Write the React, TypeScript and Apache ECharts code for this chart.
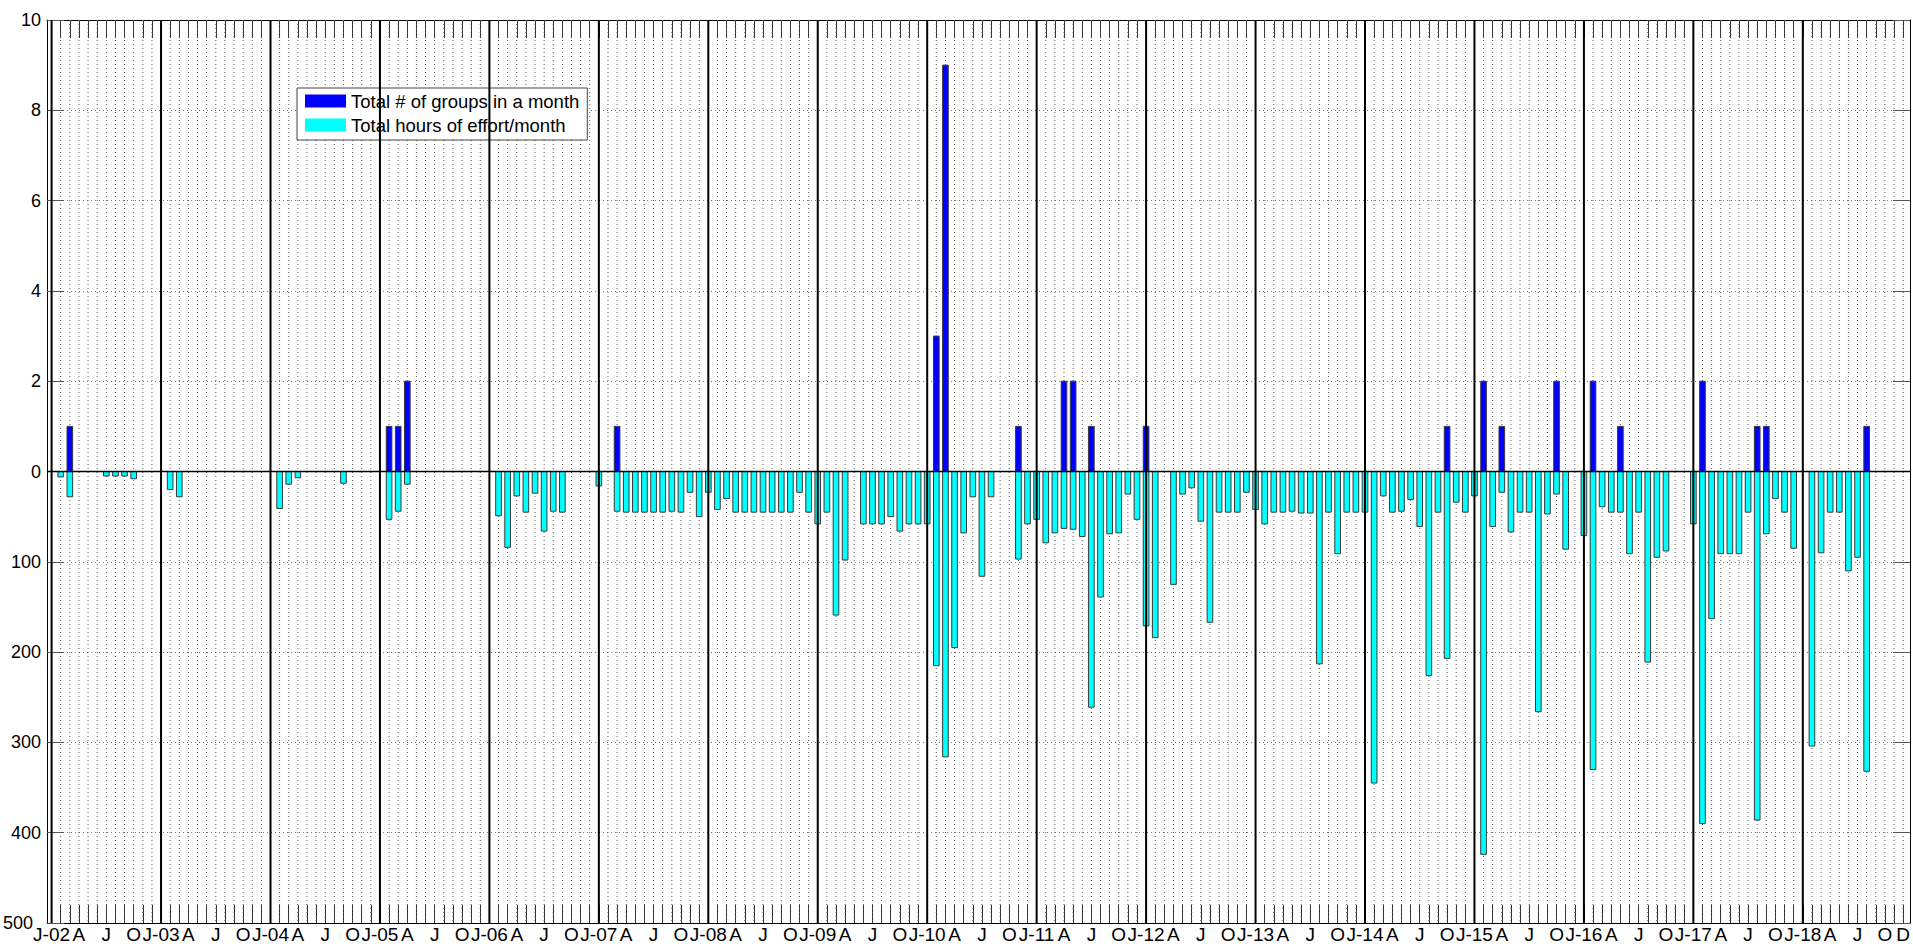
import React, { useEffect, useRef } from "react";
import * as echarts from "echarts";

// Months are indexed from Jan 2002 (0) to Dec 2018 (203)
const firstYear = 2002;
const yearCount = 17;
const monthLetters = ["J", "F", "M", "A", "M", "J", "J", "A", "S", "O", "N", "D"];
const labelledMonths = [0, 3, 6, 9]; // J, A, J, O of each year
const lastLabelMonth = 203; // "D" of Dec 2018

// Total # of groups in a month (one row per year, Jan..Dec)
const groupsPerMonth: number[] = [
  /*2002*/ 0, 0, 1, 0, 0, 0, 0, 0, 0, 0, 0, 0,
  /*2003*/ 0, 0, 0, 0, 0, 0, 0, 0, 0, 0, 0, 0,
  /*2004*/ 0, 0, 0, 0, 0, 0, 0, 0, 0, 0, 0, 0,
  /*2005*/ 0, 1, 1, 2, 0, 0, 0, 0, 0, 0, 0, 0,
  /*2006*/ 0, 0, 0, 0, 0, 0, 0, 0, 0, 0, 0, 0,
  /*2007*/ 0, 0, 1, 0, 0, 0, 0, 0, 0, 0, 0, 0,
  /*2008*/ 0, 0, 0, 0, 0, 0, 0, 0, 0, 0, 0, 0,
  /*2009*/ 0, 0, 0, 0, 0, 0, 0, 0, 0, 0, 0, 0,
  /*2010*/ 0, 3, 9, 0, 0, 0, 0, 0, 0, 0, 1, 0,
  /*2011*/ 0, 0, 0, 2, 2, 0, 1, 0, 0, 0, 0, 0,
  /*2012*/ 1, 0, 0, 0, 0, 0, 0, 0, 0, 0, 0, 0,
  /*2013*/ 0, 0, 0, 0, 0, 0, 0, 0, 0, 0, 0, 0,
  /*2014*/ 0, 0, 0, 0, 0, 0, 0, 0, 0, 1, 0, 0,
  /*2015*/ 0, 2, 0, 1, 0, 0, 0, 0, 0, 2, 0, 0,
  /*2016*/ 0, 2, 0, 0, 1, 0, 0, 0, 0, 0, 0, 0,
  /*2017*/ 0, 2, 0, 0, 0, 0, 0, 1, 1, 0, 0, 0,
  /*2018*/ 0, 0, 0, 0, 0, 0, 0, 1, 0, 0, 0, 0,
];

// Total hours of effort per month (one row per year, Jan..Dec)
const hoursPerMonth: number[] = [
  /*2002*/ 0, 6, 28, 0, 0, 0, 5, 5, 5, 8, 0, 0,
  /*2003*/ 0, 20, 28, 0, 0, 0, 0, 0, 0, 0, 0, 0,
  /*2004*/ 0, 41, 14, 7, 0, 0, 0, 0, 13, 0, 0, 0,
  /*2005*/ 0, 53, 44, 14, 0, 0, 0, 0, 0, 0, 0, 0,
  /*2006*/ 0, 49, 84, 27, 45, 24, 66, 44, 45, 0, 0, 0,
  /*2007*/ 16, 0, 44, 45, 45, 45, 45, 45, 44, 45, 23, 50,
  /*2008*/ 23, 42, 30, 45, 45, 45, 45, 45, 45, 45, 23, 45,
  /*2009*/ 58, 45, 159, 98, 0, 58, 58, 58, 50, 66, 58, 58,
  /*2010*/ 58, 215, 316, 195, 68, 28, 116, 28, 0, 0, 97, 58,
  /*2011*/ 53, 79, 68, 63, 64, 72, 261, 139, 69, 68, 25, 53,
  /*2012*/ 171, 184, 0, 125, 25, 18, 55, 167, 45, 45, 45, 23,
  /*2013*/ 42, 58, 45, 45, 44, 46, 46, 213, 45, 91, 45, 45,
  /*2014*/ 45, 345, 27, 45, 44, 31, 61, 226, 45, 207, 34, 45,
  /*2015*/ 27, 424, 61, 23, 67, 45, 45, 266, 47, 25, 86, 0,
  /*2016*/ 71, 330, 39, 45, 45, 91, 45, 211, 95, 88, 0, 0,
  /*2017*/ 58, 390, 163, 91, 91, 91, 45, 386, 69, 30, 45, 85,
  /*2018*/ 0, 304, 90, 45, 45, 110, 95, 332, 0, 0, 0, 0,
];

const HOURS_PER_UNIT = 50; // hours are drawn downward at 1/50 scale
const yTickLabels = ["500", "400", "300", "200", "100", "0", "2", "4", "6", "8", "10"];

const FONT = '"Liberation Sans", Arial, Helvetica, sans-serif';
const X_MIN = -0.5;
const X_MAX = 203.75;
const BAR_FRACTION = 0.62; // of one month

export default function App() {
  const ref = useRef<HTMLDivElement>(null);

  useEffect(() => {
    if (!ref.current) return;
    const chart = echarts.init(ref.current, undefined, { renderer: "svg" });

    const monthCount = yearCount * 12;
    const allMonths = Array.from({ length: monthCount }, (_, i) => i);
    const yearStarts = Array.from({ length: yearCount }, (_, i) => i * 12);
    const labelValues: number[] = [];
    yearStarts.forEach((s) => labelledMonths.forEach((o) => labelValues.push(s + o)));
    labelValues.push(lastLabelMonth);

    const groupData = groupsPerMonth
      .map((v, i) => [i, v])
      .filter((d) => d[1] !== 0);
    const hoursData = hoursPerMonth
      .map((v, i) => [i, -v / HOURS_PER_UNIT])
      .filter((d) => d[1] !== 0);

    const xLabel = (v: number) => {
      const m = Math.round(v);
      const mi = ((m % 12) + 12) % 12;
      if (mi === 0) {
        const yr = firstYear + m / 12;
        return "J-" + String(yr % 100).padStart(2, "0");
      }
      return monthLetters[mi];
    };
    const yLabel = (v: number) => {
      const idx = Math.round((v + 10) / 2);
      const t = yTickLabels[idx] ?? "";
      return idx === 0 ? "{low|" + t + "}" : t;
    };

    const vLine = (style: any) => (params: any, api: any) => {
      const x = api.value(0);
      const p1 = api.coord([x, 10]);
      const p2 = api.coord([x, -10]);
      return {
        type: "line",
        shape: { x1: p1[0], y1: p1[1], x2: p2[0], y2: p2[1] },
        style,
      };
    };

    const barItem = (fill: string) => (params: any, api: any) => {
      const x = api.value(0);
      const v = api.value(1);
      const p0 = api.coord([x, 0]);
      const p1 = api.coord([x, v]);
      const w = api.size([BAR_FRACTION, 0])[0];
      return {
        type: "rect",
        shape: {
          x: p0[0] - w / 2,
          y: Math.min(p0[1], p1[1]),
          width: w,
          height: Math.abs(p1[1] - p0[1]),
        },
        style: { fill, stroke: "#3a3a3a", lineWidth: 1 },
      };
    };

    const option: any = {
      animation: false,
      backgroundColor: "#ffffff",
      grid: { left: 47, right: 1, top: 20, bottom: 23, containLabel: false },
      legend: {
        data: ["Total # of groups in a month", "Total hours of effort/month"],
        orient: "vertical",
        left: 297,
        top: 88,
        padding: [3, 8, 5, 8],
        itemGap: 4,
        itemWidth: 41,
        itemHeight: 13,
        icon: "rect",
        backgroundColor: "#ffffff",
        borderColor: "#444444",
        borderWidth: 1,
        borderRadius: 0,
        itemStyle: { borderWidth: 0 },
        textStyle: { fontFamily: FONT, fontSize: 18.5, color: "#000", lineHeight: 20 },
      },
      xAxis: [
        {
          type: "value",
          min: X_MIN,
          max: X_MAX,
          position: "bottom",
          axisLine: { show: true, onZero: false, lineStyle: { color: "#000", width: 1 } },
          axisTick: {
            show: true,
            inside: true,
            length: 18,
            customValues: allMonths,
            lineStyle: { color: "#333", width: 1 },
          },
          axisLabel: {
            show: true,
            customValues: labelValues,
            formatter: xLabel,
            fontFamily: FONT,
            fontSize: 19,
            color: "#000",
            margin: 2,
          },
          splitLine: { show: false },
        },
        {
          type: "value",
          min: X_MIN,
          max: X_MAX,
          position: "top",
          axisLine: { show: true, onZero: false, lineStyle: { color: "#000", width: 1 } },
          axisTick: {
            show: true,
            inside: true,
            length: 18,
            customValues: allMonths,
            lineStyle: { color: "#333", width: 1 },
          },
          axisLabel: { show: false },
          splitLine: { show: false },
        },
      ],
      yAxis: [
        {
          type: "value",
          min: -10,
          max: 10,
          interval: 2,
          position: "left",
          axisLine: { show: true, onZero: false, lineStyle: { color: "#000", width: 1 } },
          axisTick: { show: true, inside: true, length: 17, lineStyle: { color: "#555", width: 1 } },
          axisLabel: {
            formatter: yLabel,
            fontFamily: FONT,
            fontSize: 18,
            color: "#000",
            margin: 6,
            rich: {
              low: { fontFamily: FONT, fontSize: 18, color: "#000", padding: [0, 8, 0, 0] },
            },
          },
          splitLine: { show: true, lineStyle: { color: "#777", width: 1, type: [1, 3] } },
        },
        {
          type: "value",
          min: -10,
          max: 10,
          interval: 2,
          position: "right",
          axisLine: { show: true, onZero: false, lineStyle: { color: "#000", width: 1 } },
          axisTick: { show: true, inside: true, length: 17, lineStyle: { color: "#555", width: 1 } },
          axisLabel: { show: false },
          splitLine: { show: false },
        },
      ],
      series: [
        {
          type: "custom",
          name: "monthGrid",
          xAxisIndex: 0,
          yAxisIndex: 0,
          z: 1,
          silent: true,
          data: allMonths.map((m) => [m, 0]),
          encode: { x: 0, y: 1 },
          renderItem: vLine({ stroke: "#555", lineWidth: 1, lineDash: [1, 3] }),
        },
        {
          type: "custom",
          name: "Total # of groups in a month",
          xAxisIndex: 0,
          yAxisIndex: 0,
          z: 3,
          data: groupData,
          encode: { x: 0, y: 1 },
          itemStyle: { color: "#0000FF" },
          renderItem: barItem("#0000FF"),
        },
        {
          type: "custom",
          name: "Total hours of effort/month",
          xAxisIndex: 0,
          yAxisIndex: 0,
          z: 3,
          data: hoursData,
          encode: { x: 0, y: 1 },
          itemStyle: { color: "#00FFFF" },
          renderItem: barItem("#00FFFF"),
        },
        {
          type: "custom",
          name: "yearLines",
          xAxisIndex: 0,
          yAxisIndex: 0,
          z: 5,
          silent: true,
          data: yearStarts.map((m) => [m, 0]),
          encode: { x: 0, y: 1 },
          renderItem: vLine({ stroke: "#000", lineWidth: 2 }),
        },
        {
          type: "custom",
          name: "zeroLine",
          xAxisIndex: 0,
          yAxisIndex: 0,
          z: 5,
          silent: true,
          data: [[0, 0]],
          encode: { x: 0, y: 1 },
          renderItem: (params: any, api: any) => {
            const p1 = api.coord([X_MIN, 0]);
            const p2 = api.coord([X_MAX, 0]);
            return {
              type: "line",
              shape: { x1: p1[0], y1: p1[1], x2: p2[0], y2: p2[1] },
              style: { stroke: "#000", lineWidth: 1.5 },
            };
          },
        },
      ],
    };

    chart.setOption(option);
    return () => chart.dispose();
  }, []);

  return (
    <div
      ref={ref}
      style={{ position: "fixed", left: 0, top: 0, width: 1913, height: 946, background: "#fff" }}
    />
  );
}
